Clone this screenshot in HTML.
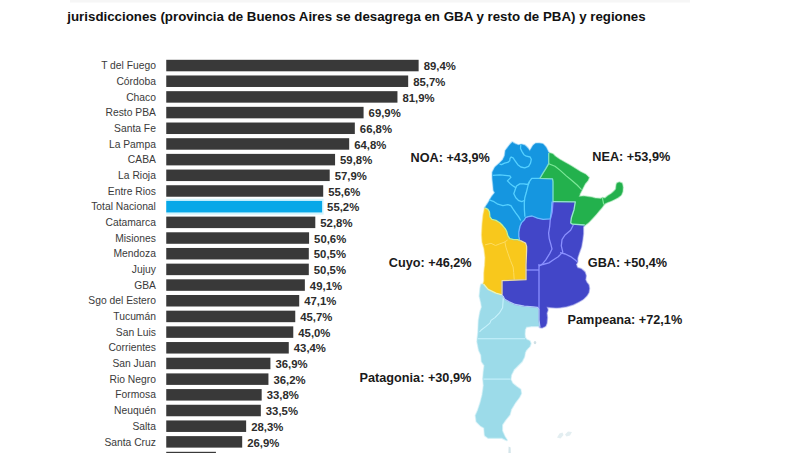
<!DOCTYPE html>
<html><head><meta charset="utf-8"><style>
html,body{margin:0;padding:0;background:#fff;width:800px;height:453px;overflow:hidden}
svg{display:block}
text{font-family:"Liberation Sans",sans-serif}
</style></head><body>
<svg width="800" height="453" viewBox="0 0 800 453">
<rect width="800" height="453" fill="#fff"/>
<rect x="70" y="0" width="620" height="2.5" fill="#f6f6f6"/>
<text x="67.3" y="20.5" font-size="13.3" font-weight="bold" fill="#111">jurisdicciones (provincia de Buenos Aires se desagrega en GBA y resto de PBA) y regiones</text>
<g><rect x="166.25" y="59.80" width="252.38" height="11.5" fill="#393939"/><rect x="166.25" y="75.48" width="241.93" height="11.5" fill="#393939"/><rect x="166.25" y="91.16" width="231.20" height="11.5" fill="#393939"/><rect x="166.25" y="106.84" width="197.33" height="11.5" fill="#393939"/><rect x="166.25" y="122.52" width="188.58" height="11.5" fill="#393939"/><rect x="166.25" y="138.20" width="182.93" height="11.5" fill="#393939"/><rect x="166.25" y="153.88" width="168.82" height="11.5" fill="#393939"/><rect x="166.25" y="169.56" width="163.45" height="11.5" fill="#393939"/><rect x="166.25" y="185.24" width="156.96" height="11.5" fill="#393939"/><rect x="166.25" y="198.72" width="157.33" height="15.9" fill="#d2f4fd"/><rect x="166.25" y="200.92" width="155.83" height="11.5" fill="#08a8e8"/><rect x="166.25" y="216.60" width="149.05" height="11.5" fill="#393939"/><rect x="166.25" y="232.28" width="142.84" height="11.5" fill="#393939"/><rect x="166.25" y="247.96" width="142.56" height="11.5" fill="#393939"/><rect x="166.25" y="263.64" width="142.56" height="11.5" fill="#393939"/><rect x="166.25" y="279.32" width="138.61" height="11.5" fill="#393939"/><rect x="166.25" y="295.00" width="132.96" height="11.5" fill="#393939"/><rect x="166.25" y="310.68" width="129.01" height="11.5" fill="#393939"/><rect x="166.25" y="326.36" width="127.03" height="11.5" fill="#393939"/><rect x="166.25" y="342.04" width="122.52" height="11.5" fill="#393939"/><rect x="166.25" y="357.72" width="104.17" height="11.5" fill="#393939"/><rect x="166.25" y="373.40" width="102.19" height="11.5" fill="#393939"/><rect x="166.25" y="389.08" width="95.42" height="11.5" fill="#393939"/><rect x="166.25" y="404.76" width="94.57" height="11.5" fill="#393939"/><rect x="166.25" y="420.44" width="79.89" height="11.5" fill="#393939"/><rect x="166.25" y="436.12" width="75.94" height="11.5" fill="#393939"/><rect x="166.25" y="451.80" width="49.68" height="11.5" fill="#393939"/></g>
<g font-size="10.3" fill="#3a3a3a" text-anchor="end"><text x="155.9" y="69.20">T del Fuego</text><text x="155.9" y="84.88">Córdoba</text><text x="155.9" y="100.56">Chaco</text><text x="155.9" y="116.24">Resto PBA</text><text x="155.9" y="131.92">Santa Fe</text><text x="155.9" y="147.60">La Pampa</text><text x="155.9" y="163.28">CABA</text><text x="155.9" y="178.96">La Rioja</text><text x="155.9" y="194.64">Entre Rios</text><text x="155.9" y="210.32">Total Nacional</text><text x="155.9" y="226.00">Catamarca</text><text x="155.9" y="241.68">Misiones</text><text x="155.9" y="257.36">Mendoza</text><text x="155.9" y="273.04">Jujuy</text><text x="155.9" y="288.72">GBA</text><text x="155.9" y="304.40">Sgo del Estero</text><text x="155.9" y="320.08">Tucumán</text><text x="155.9" y="335.76">San Luis</text><text x="155.9" y="351.44">Corrientes</text><text x="155.9" y="367.12">San Juan</text><text x="155.9" y="382.80">Rio Negro</text><text x="155.9" y="398.48">Formosa</text><text x="155.9" y="414.16">Neuquén</text><text x="155.9" y="429.84">Salta</text><text x="155.9" y="445.52">Santa Cruz</text></g>
<g font-size="11.35" font-weight="bold" fill="#2c2c2c"><text x="423.63" y="70.20">89,4%</text><text x="413.18" y="85.88">85,7%</text><text x="402.45" y="101.56">81,9%</text><text x="368.58" y="117.24">69,9%</text><text x="359.83" y="132.92">66,8%</text><text x="354.18" y="148.60">64,8%</text><text x="340.07" y="164.28">59,8%</text><text x="334.70" y="179.96">57,9%</text><text x="328.21" y="195.64">55,6%</text><text x="327.08" y="211.32">55,2%</text><text x="320.30" y="227.00">52,8%</text><text x="314.09" y="242.68">50,6%</text><text x="313.81" y="258.36">50,5%</text><text x="313.81" y="274.04">50,5%</text><text x="309.86" y="289.72">49,1%</text><text x="304.21" y="305.40">47,1%</text><text x="300.26" y="321.08">45,7%</text><text x="298.28" y="336.76">45,0%</text><text x="293.77" y="352.44">43,4%</text><text x="275.42" y="368.12">36,9%</text><text x="273.44" y="383.80">36,2%</text><text x="266.67" y="399.48">33,8%</text><text x="265.82" y="415.16">33,5%</text><text x="251.14" y="430.84">28,3%</text><text x="247.19" y="446.52">26,9%</text></g>
<g stroke-linejoin="round">
<path d="M502.0,294.8 L504.7,299.2 L509.2,301.8 L515.3,304.5 L524.2,306.2 L533.0,306.8 L537.5,307.3 L539.0,309.5 L539.0,320.0 L539.9,327.0 L538.6,326.0 L531.5,326.0 L526.2,326.8 L524.9,329.5 L524.5,334.0 L524.9,337.5 L526.5,339.8 L529.5,341.0 L530.5,343.5 L529.5,346.5 L527.5,348.5 L525.8,350.5 L524.9,352.5 L524.0,357.0 L521.7,361.6 L517.7,365.6 L513.7,369.6 L511.0,374.9 L510.4,379.5 L512.4,383.5 L516.4,386.8 L520.3,389.4 L521.0,393.4 L519.0,397.4 L515.0,402.7 L511.0,409.3 L509.5,414.7 L505.2,420.0 L502.0,424.7 L502.0,430.9 L504.4,436.3 L506.7,440.1 L502.0,437.8 L488.2,437.8 L485.0,435.5 L484.3,427.8 L480.4,425.5 L476.6,421.6 L475.8,415.4 L478.0,410.6 L480.6,402.7 L482.6,394.7 L483.9,385.5 L483.2,378.8 L483.9,370.9 L484.6,365.6 L481.9,361.6 L481.3,355.0 L479.1,350.3 L477.4,341.5 L478.3,332.7 L478.9,320.0 L480.4,311.7 L482.0,307.1 L481.2,302.5 L479.7,296.3 L480.4,288.6 L481.2,284.7 L483.5,284.0 L502.0,294.8 L495.9,293.2 L488.1,289.4 L483.5,284.0Z" fill="none" stroke="#dff4f9" stroke-width="2.4"/>
<path d="M519.7,240.7 L517.7,239.7 L513.7,239.7 L509.8,238.7 L507.8,235.7 L506.8,231.8 L505.3,228.8 L502.8,225.8 L499.8,222.8 L495.9,220.4 L491.9,219.4 L489.9,216.9 L489.4,211.9 L487.9,209.4 L485.0,207.9 L483.5,214.9 L482.5,224.8 L482.0,234.8 L482.5,242.0 L484.5,249.0 L485.5,257.7 L485.1,265.4 L484.3,273.1 L484.3,280.9 L483.5,284.0 L488.1,289.4 L495.9,293.2 L502.0,294.8 L502.0,280.6 L526.0,279.7 L526.0,265.0 L526.6,250.0 L526.6,246.4 L525.5,243.0 L521.0,240.8 L519.7,240.7Z" fill="none" stroke="#fdf0b8" stroke-width="2.4"/>
<path d="M519.7,240.7 L518.8,236.4 L518.8,232.0 L519.9,226.5 L521.6,222.6 L524.3,219.9 L525.5,217.7 L528.2,216.6 L532.1,216.0 L537.6,218.2 L543.1,219.3 L550.3,218.8 L551.4,211.0 L552.0,202.2 L553.0,201.7 L575.3,201.8 L574.0,209.7 L571.4,217.7 L570.7,223.0 L572.4,224.2 L584.8,225.0 L583.0,226.8 L583.0,233.9 L582.1,240.9 L581.0,247.0 L579.9,250.0 L578.5,254.0 L577.2,258.0 L577.2,261.9 L575.9,264.6 L577.2,267.9 L581.2,269.2 L584.5,271.9 L585.8,275.8 L585.2,279.8 L586.5,282.5 L588.5,285.1 L589.1,288.4 L588.5,292.4 L586.5,295.7 L583.2,299.0 L578.5,301.7 L573.2,304.3 L566.6,306.3 L560.0,307.3 L556.4,307.5 L549.8,307.1 L546.5,306.8 L547.6,309.9 L546.5,313.2 L547.0,317.6 L546.5,323.1 L545.4,325.9 L542.1,327.5 L539.9,327.0 L539.0,320.0 L539.0,309.5 L537.5,307.3 L533.0,306.8 L524.2,306.2 L515.3,304.5 L509.2,301.8 L504.7,299.2 L502.0,294.8 L502.0,280.6 L526.0,279.7 L526.0,265.0 L526.6,250.0 L526.6,246.4 L525.5,243.0 L521.0,240.8 L519.7,240.7Z" fill="none" stroke="#c4c6f2" stroke-width="2.4"/>
<path d="M548.7,152.9 L553.0,154.3 L555.0,156.5 L559.4,159.5 L566.0,163.3 L570.5,165.8 L574.9,168.6 L580.4,172.0 L585.9,174.8 L588.7,177.6 L587.6,180.4 L584.8,183.7 L583.1,187.0 L581.5,190.3 L579.8,193.6 L578.7,196.9 L583.7,196.4 L591.4,197.5 L595.3,198.5 L600.6,198.9 L602.4,198.0 L605.0,198.5 L607.7,196.2 L611.2,194.0 L613.9,191.8 L616.1,189.2 L616.5,185.6 L617.0,183.4 L619.2,182.5 L621.9,183.4 L622.7,187.4 L622.3,191.8 L621.0,194.9 L618.3,197.1 L614.8,198.9 L611.2,200.7 L607.7,202.0 L605.0,203.3 L603.7,204.6 L601.5,207.7 L598.8,210.8 L596.2,213.9 L592.5,218.0 L588.5,222.3 L584.8,225.0 L572.4,224.2 L570.7,223.0 L571.4,217.7 L574.0,209.7 L575.3,201.8 L553.0,201.7 L553.0,181.6 L552.5,178.8 L546.0,178.6 L540.0,178.3 L542.2,174.4 L545.8,168.7 L548.7,163.7 L548.7,152.9Z" fill="none" stroke="#c4f0cf" stroke-width="2.4"/>
<path d="M485.0,207.9 L486.9,205.0 L488.9,202.0 L489.9,200.0 L492.0,196.5 L495.0,192.8 L493.8,190.4 L493.2,184.3 L492.6,178.2 L492.6,172.2 L495.1,167.3 L499.3,163.6 L503.0,159.8 L504.9,155.9 L505.6,150.6 L507.6,147.9 L510.2,144.6 L512.2,142.4 L514.9,143.9 L518.2,145.3 L521.5,144.6 L524.8,145.5 L527.5,147.9 L529.7,151.2 L531.4,148.6 L533.4,145.3 L535.7,143.6 L539.0,143.5 L542.9,144.1 L545.8,147.2 L547.9,151.5 L548.7,152.9 L548.7,163.7 L545.8,168.7 L542.2,174.4 L540.0,178.3 L546.0,178.6 L552.5,178.8 L553.0,181.6 L553.0,201.7 L552.0,202.2 L551.4,211.0 L550.3,218.8 L543.1,219.3 L537.6,218.2 L532.1,216.0 L528.2,216.6 L525.5,217.7 L524.3,219.9 L521.6,222.6 L519.9,226.5 L518.8,232.0 L518.8,236.4 L519.7,240.7 L517.7,239.7 L513.7,239.7 L509.8,238.7 L507.8,235.7 L506.8,231.8 L505.3,228.8 L502.8,225.8 L499.8,222.8 L495.9,220.4 L491.9,219.4 L489.9,216.9 L489.4,211.9 L487.9,209.4 L485.0,207.9Z" fill="none" stroke="#bfe6fb" stroke-width="2.4"/>
<path d="M502.0,294.8 L504.7,299.2 L509.2,301.8 L515.3,304.5 L524.2,306.2 L533.0,306.8 L537.5,307.3 L539.0,309.5 L539.0,320.0 L539.9,327.0 L538.6,326.0 L531.5,326.0 L526.2,326.8 L524.9,329.5 L524.5,334.0 L524.9,337.5 L526.5,339.8 L529.5,341.0 L530.5,343.5 L529.5,346.5 L527.5,348.5 L525.8,350.5 L524.9,352.5 L524.0,357.0 L521.7,361.6 L517.7,365.6 L513.7,369.6 L511.0,374.9 L510.4,379.5 L512.4,383.5 L516.4,386.8 L520.3,389.4 L521.0,393.4 L519.0,397.4 L515.0,402.7 L511.0,409.3 L509.5,414.7 L505.2,420.0 L502.0,424.7 L502.0,430.9 L504.4,436.3 L506.7,440.1 L502.0,437.8 L488.2,437.8 L485.0,435.5 L484.3,427.8 L480.4,425.5 L476.6,421.6 L475.8,415.4 L478.0,410.6 L480.6,402.7 L482.6,394.7 L483.9,385.5 L483.2,378.8 L483.9,370.9 L484.6,365.6 L481.9,361.6 L481.3,355.0 L479.1,350.3 L477.4,341.5 L478.3,332.7 L478.9,320.0 L480.4,311.7 L482.0,307.1 L481.2,302.5 L479.7,296.3 L480.4,288.6 L481.2,284.7 L483.5,284.0 L502.0,294.8 L495.9,293.2 L488.1,289.4 L483.5,284.0Z" fill="#9cdbe9" stroke="#9cdbe9" stroke-width="0.6"/>
<path d="M519.7,240.7 L517.7,239.7 L513.7,239.7 L509.8,238.7 L507.8,235.7 L506.8,231.8 L505.3,228.8 L502.8,225.8 L499.8,222.8 L495.9,220.4 L491.9,219.4 L489.9,216.9 L489.4,211.9 L487.9,209.4 L485.0,207.9 L483.5,214.9 L482.5,224.8 L482.0,234.8 L482.5,242.0 L484.5,249.0 L485.5,257.7 L485.1,265.4 L484.3,273.1 L484.3,280.9 L483.5,284.0 L488.1,289.4 L495.9,293.2 L502.0,294.8 L502.0,280.6 L526.0,279.7 L526.0,265.0 L526.6,250.0 L526.6,246.4 L525.5,243.0 L521.0,240.8 L519.7,240.7Z" fill="#f8c81c" stroke="#f8c81c" stroke-width="0.6"/>
<path d="M519.7,240.7 L518.8,236.4 L518.8,232.0 L519.9,226.5 L521.6,222.6 L524.3,219.9 L525.5,217.7 L528.2,216.6 L532.1,216.0 L537.6,218.2 L543.1,219.3 L550.3,218.8 L551.4,211.0 L552.0,202.2 L553.0,201.7 L575.3,201.8 L574.0,209.7 L571.4,217.7 L570.7,223.0 L572.4,224.2 L584.8,225.0 L583.0,226.8 L583.0,233.9 L582.1,240.9 L581.0,247.0 L579.9,250.0 L578.5,254.0 L577.2,258.0 L577.2,261.9 L575.9,264.6 L577.2,267.9 L581.2,269.2 L584.5,271.9 L585.8,275.8 L585.2,279.8 L586.5,282.5 L588.5,285.1 L589.1,288.4 L588.5,292.4 L586.5,295.7 L583.2,299.0 L578.5,301.7 L573.2,304.3 L566.6,306.3 L560.0,307.3 L556.4,307.5 L549.8,307.1 L546.5,306.8 L547.6,309.9 L546.5,313.2 L547.0,317.6 L546.5,323.1 L545.4,325.9 L542.1,327.5 L539.9,327.0 L539.0,320.0 L539.0,309.5 L537.5,307.3 L533.0,306.8 L524.2,306.2 L515.3,304.5 L509.2,301.8 L504.7,299.2 L502.0,294.8 L502.0,280.6 L526.0,279.7 L526.0,265.0 L526.6,250.0 L526.6,246.4 L525.5,243.0 L521.0,240.8 L519.7,240.7Z" fill="#4246c8" stroke="#4246c8" stroke-width="0.6"/>
<path d="M548.7,152.9 L553.0,154.3 L555.0,156.5 L559.4,159.5 L566.0,163.3 L570.5,165.8 L574.9,168.6 L580.4,172.0 L585.9,174.8 L588.7,177.6 L587.6,180.4 L584.8,183.7 L583.1,187.0 L581.5,190.3 L579.8,193.6 L578.7,196.9 L583.7,196.4 L591.4,197.5 L595.3,198.5 L600.6,198.9 L602.4,198.0 L605.0,198.5 L607.7,196.2 L611.2,194.0 L613.9,191.8 L616.1,189.2 L616.5,185.6 L617.0,183.4 L619.2,182.5 L621.9,183.4 L622.7,187.4 L622.3,191.8 L621.0,194.9 L618.3,197.1 L614.8,198.9 L611.2,200.7 L607.7,202.0 L605.0,203.3 L603.7,204.6 L601.5,207.7 L598.8,210.8 L596.2,213.9 L592.5,218.0 L588.5,222.3 L584.8,225.0 L572.4,224.2 L570.7,223.0 L571.4,217.7 L574.0,209.7 L575.3,201.8 L553.0,201.7 L553.0,181.6 L552.5,178.8 L546.0,178.6 L540.0,178.3 L542.2,174.4 L545.8,168.7 L548.7,163.7 L548.7,152.9Z" fill="#23b14d" stroke="#23b14d" stroke-width="0.6"/>
<path d="M485.0,207.9 L486.9,205.0 L488.9,202.0 L489.9,200.0 L492.0,196.5 L495.0,192.8 L493.8,190.4 L493.2,184.3 L492.6,178.2 L492.6,172.2 L495.1,167.3 L499.3,163.6 L503.0,159.8 L504.9,155.9 L505.6,150.6 L507.6,147.9 L510.2,144.6 L512.2,142.4 L514.9,143.9 L518.2,145.3 L521.5,144.6 L524.8,145.5 L527.5,147.9 L529.7,151.2 L531.4,148.6 L533.4,145.3 L535.7,143.6 L539.0,143.5 L542.9,144.1 L545.8,147.2 L547.9,151.5 L548.7,152.9 L548.7,163.7 L545.8,168.7 L542.2,174.4 L540.0,178.3 L546.0,178.6 L552.5,178.8 L553.0,181.6 L553.0,201.7 L552.0,202.2 L551.4,211.0 L550.3,218.8 L543.1,219.3 L537.6,218.2 L532.1,216.0 L528.2,216.6 L525.5,217.7 L524.3,219.9 L521.6,222.6 L519.9,226.5 L518.8,232.0 L518.8,236.4 L519.7,240.7 L517.7,239.7 L513.7,239.7 L509.8,238.7 L507.8,235.7 L506.8,231.8 L505.3,228.8 L502.8,225.8 L499.8,222.8 L495.9,220.4 L491.9,219.4 L489.9,216.9 L489.4,211.9 L487.9,209.4 L485.0,207.9Z" fill="#1596e0" stroke="#1596e0" stroke-width="0.6"/>
<path d="M520.8,144.8 L520.5,148.5 L522.0,151.6 L523.9,154.7 L526.3,156.2 L530.1,157.0 L531.3,159.3 L530.5,163.2 L528.6,166.3 L524.7,167.8 L520.8,167.0 L517.8,164.7 L515.1,160.8 L513.1,157.8 L511.2,157.0 L510.0,158.5 L509.7,160.8 L507.7,162.4 L504.6,163.2 L501.5,164.7 L499.5,164.2" fill="none" stroke="#55d0ff" stroke-width="1.3"/>
<path d="M492.8,175.4 L499.9,174.9 L509.9,175.9 L510.9,177.4 L508.9,179.4 L507.4,180.9 L509.9,183.4 L511.8,184.9 L513.8,186.4 L515.8,187.8 L514.8,190.8 L513.8,193.8 L515.8,197.8 L518.8,200.7 L521.8,201.7 L524.3,200.5" fill="none" stroke="#55d0ff" stroke-width="1.3"/>
<path d="M515.8,187.8 L516.5,186.0 L519.8,183.9 L523.8,183.9 L527.7,184.5 L529.5,182.0" fill="none" stroke="#55d0ff" stroke-width="1.3"/>
<path d="M540.0,178.3 L531.7,178.4 L529.2,181.9 L527.7,186.8 L526.2,192.8 L524.8,197.8 L524.3,202.7 L524.4,210.0 L524.9,216.8" fill="none" stroke="#55d0ff" stroke-width="1.3"/>
<path d="M489.2,199.8 L494.0,201.7 L497.9,204.2 L502.9,205.7 L507.9,204.7 L510.9,205.7 L512.8,208.7 L515.7,212.9 L518.7,216.9 L520.7,220.5" fill="none" stroke="#55d0ff" stroke-width="1.3"/>
<path d="M548.7,163.7 L555.0,166.3 L560.5,170.6 L566.0,175.6 L571.6,180.2 L577.1,185.0 L581.5,189.6" fill="none" stroke="#7de898" stroke-width="1.2"/>
<path d="M602.4,198.0 L603.7,204.4" fill="none" stroke="#7de898" stroke-width="1.2"/>
<path d="M485.0,244.9 L491.0,243.3 L495.5,245.5 L499.9,243.8 L504.3,242.2 L507.6,240.0" fill="none" stroke="#fddc60" stroke-width="1.0"/>
<path d="M504.8,241.6 L505.9,247.1 L508.1,253.8 L510.4,260.4 L513.1,267.0 L513.7,272.5 L514.2,279.6" fill="none" stroke="#fddc60" stroke-width="1.0"/>
<path d="M553.0,201.7 L552.2,212.0 L550.3,219.3 L549.7,226.5 L548.6,233.1 L549.2,238.6 L550.8,244.2 L552.0,249.0 L549.7,253.6 L545.8,259.8 L542.7,263.7 L538.9,266.0" fill="none" stroke="#8a90ff" stroke-width="1.3"/>
<path d="M526.0,270.0 L539.0,270.0" fill="none" stroke="#8a90ff" stroke-width="1.3"/>
<path d="M539.0,264.0 L539.0,309.5" fill="none" stroke="#8a90ff" stroke-width="1.3"/>
<path d="M573.3,225.0 L570.6,230.3 L565.0,235.0 L562.0,239.7 L561.3,245.9 L562.8,252.1 L558.2,256.7 L553.5,259.8 L548.9,262.9 L542.7,264.5 L538.9,266.0" fill="none" stroke="#8a90ff" stroke-width="1.3"/>
<path d="M560.0,252.6 L565.3,254.0 L570.6,256.6 L575.9,260.6 L577.2,261.9" fill="none" stroke="#8a90ff" stroke-width="1.3"/>
<path d="M503.5,296.0 L503.1,301.0 L502.6,307.7 L499.3,313.2 L494.9,317.6 L491.0,320.4 L489.9,323.1 L486.0,326.4 L481.6,329.7 L479.5,332.0" fill="none" stroke="#c8f2fc" stroke-width="1.1"/>
<path d="M477.8,338.8 L500.0,338.8 L525.2,338.8" fill="none" stroke="#c8f2fc" stroke-width="1.1"/>
<path d="M483.5,379.1 L497.0,379.1 L510.4,379.1" fill="none" stroke="#c8f2fc" stroke-width="1.1"/>
<path d="M548.7,152.9 L548.7,163.7 L545.8,168.7 L542.2,174.4 L540.0,178.3 L546.0,178.6 L552.5,178.8 L553.0,181.6 L553.0,201.7" fill="none" stroke="#80e0c0" stroke-width="1.3"/>
<path d="M553.0,201.7 L552.0,202.2 L551.4,211.0 L550.3,218.8 L543.1,219.3 L537.6,218.2 L532.1,216.0 L528.2,216.6 L525.5,217.7 L524.3,219.9 L521.6,222.6 L519.9,226.5 L518.8,232.0 L518.8,236.4 L519.7,240.7" fill="none" stroke="#70b8ff" stroke-width="1.3"/>
<path d="M519.7,240.7 L517.7,239.7 L513.7,239.7 L509.8,238.7 L507.8,235.7 L506.8,231.8 L505.3,228.8 L502.8,225.8 L499.8,222.8 L495.9,220.4 L491.9,219.4 L489.9,216.9 L489.4,211.9 L487.9,209.4 L485.0,207.9" fill="none" stroke="#c8f090" stroke-width="1.3"/>
<path d="M502.0,294.8 L502.0,280.6 L526.0,279.7 L526.0,265.0 L526.6,250.0 L526.6,246.4 L525.5,243.0 L521.0,240.8 L519.7,240.7" fill="none" stroke="#f0e0a0" stroke-width="1.3"/>
<path d="M483.5,284.0 L488.1,289.4 L495.9,293.2 L502.0,294.8" fill="none" stroke="#e8f4c0" stroke-width="1.3"/>
<path d="M553.0,201.7 L575.3,201.8 L574.0,209.7 L571.4,217.7 L570.7,223.0 L572.4,224.2 L584.8,225.0" fill="none" stroke="#98e4d0" stroke-width="1.3"/>
<path d="M539.9,327.0 L539.0,320.0 L539.0,309.5 L537.5,307.3 L533.0,306.8 L524.2,306.2 L515.3,304.5 L509.2,301.8 L504.7,299.2 L502.0,294.8" fill="none" stroke="#b0c8f8" stroke-width="1.3"/>
<ellipse cx="535" cy="342.6" rx="1.3" ry="1.6" fill="#cfe0e5"/>
<path d="M557,437.5 L559.5,433.5 L562.5,432.5 L563.5,435 L560.5,438.5Z M565,434.5 L568,431.5 L572,432 L570,435.5 L566.5,436.5Z" fill="#e3eef1"/>
<path d="M508.6,446.5 L510.6,447.5 L510.8,453 L508.4,453Z" fill="#d4e5ea"/>
</g>
<g font-size="12.7" font-weight="bold" fill="#1a1a1a">
<text x="410.5" y="161.9">NOA: +43,9%</text>
<text x="592.3" y="161.3">NEA: +53,9%</text>
<text x="388.8" y="266.5">Cuyo: +46,2%</text>
<text x="587.8" y="266.9">GBA: +50,4%</text>
<text x="567.6" y="324.3">Pampeana: +72,1%</text>
<text x="359.5" y="382.3">Patagonia: +30,9%</text>
</g>
</svg>
</body></html>
